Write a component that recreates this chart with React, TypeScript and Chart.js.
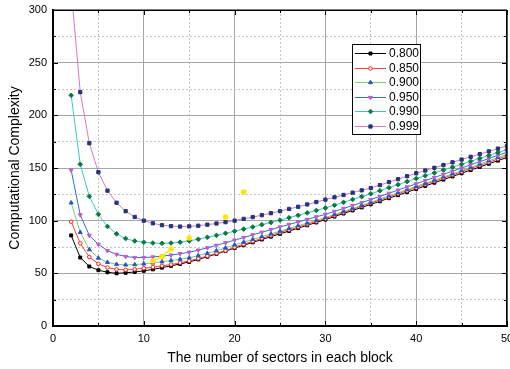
import React, { useEffect, useRef } from 'react';
import { Chart, registerables } from 'chart.js';
import { drawPoint } from 'chart.js/helpers';

Chart.register(...registerables);

// ---------- data ----------
const sectors = [2, 3, 4, 5, 6, 7, 8, 9, 10, 11, 12, 13, 14, 15, 16, 17, 18, 19, 20, 21, 22, 23, 24, 25, 26, 27, 28, 29, 30, 31, 32, 33, 34, 35, 36, 37, 38, 39, 40, 41, 42, 43, 44, 45, 46, 47, 48, 49, 50];

const c800 = [86, 65, 56.5, 53, 51, 50, 50.5, 51.3, 52.4, 53.8, 55.4, 57.1, 58.9, 60.8, 63.2, 65.8, 68.4, 71.1, 74, 76.7, 79.4, 82.1, 84.8, 87.5, 90.2, 92.9, 95.6, 98.3, 101, 103.9, 106.8, 109.7, 112.6, 115.5, 118.4, 121.3, 124.2, 127.1, 130, 133, 136, 139, 142, 145, 148, 151, 154, 157, 160];
const c850 = [99, 78.5, 65.5, 59, 55.5, 53.7, 53.3, 53.8, 54.8, 55.9, 57.1, 58.4, 60, 61.8, 64, 66.4, 69, 71.6, 74.8, 77.6, 80.4, 83.2, 86, 88.8, 91.4, 94, 96.6, 99.3, 102, 105, 107.9, 110.9, 113.8, 116.8, 119.7, 122.6, 125.6, 128.5, 131.5, 134.5, 137.5, 140.5, 143.5, 146.5, 149.5, 152.5, 155.5, 158.5, 161.5];
const c900 = [117, 89, 72.5, 64.5, 60.5, 58.6, 58, 58.3, 59, 59.9, 61, 62.2, 63.4, 64.8, 66.8, 69, 71.5, 74.2, 77, 79.6, 82.2, 84.8, 87.4, 90, 92.6, 95.2, 97.8, 100.4, 103, 105.9, 108.8, 111.7, 114.6, 117.5, 120.5, 123.5, 126.5, 129.5, 132.5, 135.5, 138.5, 141.5, 144.5, 147.5, 150.6, 153.7, 156.8, 159.9, 163];
const c950 = [148, 105.5, 86, 77.5, 71.5, 68, 66, 65, 65, 65.5, 66.3, 67.3, 68.6, 70, 72, 74.2, 76.6, 79, 81.5, 84, 86.5, 89, 91.5, 94, 96.4, 98.8, 101.2, 103.6, 106, 108.8, 111.6, 114.4, 117.2, 120, 123, 126, 129, 132, 135, 138, 141, 144, 147, 150, 153, 156, 159, 162, 165];
const c990 = [219, 153.5, 123, 106, 94.5, 87.5, 83, 80.7, 79.5, 78.8, 78.5, 78.8, 79.6, 80.8, 82.4, 84.2, 86, 88, 90, 92, 94, 96.2, 98.3, 100.5, 102.8, 105.1, 107.4, 109.7, 112, 114.7, 117.4, 120.1, 122.8, 125.5, 128.4, 131.3, 134.2, 137.1, 140, 142.7, 145.4, 148.1, 150.8, 153.5, 156.3, 159.1, 161.9, 164.7, 167.5];
const c999 = [320, 222, 173.5, 146, 128.5, 117, 109, 103.5, 100, 97.5, 95.7, 94.8, 94.4, 94.6, 95.2, 96.2, 97.3, 98.6, 100, 101.7, 103.4, 105.2, 107.1, 109, 111.1, 113.2, 115.4, 117.7, 120, 122.2, 124.4, 126.6, 128.8, 131, 133.8, 136.6, 139.4, 142.2, 145, 147.6, 150.2, 152.8, 155.4, 158, 160.6, 163.2, 165.8, 168.4, 171];

const seriesLabels = ['0.800', '0.850', '0.900', '0.950', '0.990', '0.999'];

// stray yellow marks in the figure
const yellowX = [11, 12, 13, 14, 15, 17, 19, 20, 21];
const yellowY = [61.7, 66, 73, null, 83.6, null, 103.5, null, 127.2];

const xTitle = 'The number of sectors in each block';
const yTitle = 'Computational Complexity';

// ---------- styles ----------
const styles = [
  { line: '#000000', fill: '#000000', stroke: '#000000', shape: 'rect', r: 2.1, rot: 0 },
  { line: '#ff3b3b', fill: '#ffffff', stroke: '#ff2020', shape: 'circle', r: 1.8, rot: 0 },
  { line: '#7ccd6e', fill: '#2255c8', stroke: '#2255c8', shape: 'triangle', r: 2.3, rot: 0 },
  { line: '#2f6fd6', fill: '#c05cc8', stroke: '#c05cc8', shape: 'triangle', r: 2.3, rot: 180 },
  { line: '#3ec3d3', fill: '#0a7a3a', stroke: '#0a7a3a', shape: 'rectRot', r: 2.3, rot: 0 },
  { line: '#d877c8', fill: '#23357a', stroke: '#23357a', shape: 'rect', r: 2.3, rot: 0 },
];
const seriesValues = [c800, c850, c900, c950, c990, c999];

const FONT = "'Liberation Sans', Arial, sans-serif";

const framePlugin = {
  id: 'frameAndLegend',
  afterDraw(chart: any) {
    const ctx = chart.ctx as CanvasRenderingContext2D;
    const { left, right, top, bottom } = chart.chartArea;
    const xs = chart.scales.x;
    const ys = chart.scales.y;
    ctx.save();
    // top + right frame lines
    ctx.strokeStyle = '#000';
    ctx.lineWidth = 1.5;
    ctx.beginPath();
    ctx.moveTo(left, top + 0.25);
    ctx.lineTo(right, top + 0.25);
    ctx.moveTo(right - 0.25, top);
    ctx.lineTo(right - 0.25, bottom);
    ctx.stroke();
    // inside ticks
    ctx.lineWidth = 1;
    ctx.beginPath();
    xs.ticks.forEach((t: any) => {
      const px = Math.round(xs.getPixelForValue(t.value)) + 0.5;
      const len = t.value % 10 === 0 ? 5 : 3;
      ctx.moveTo(px, bottom);
      ctx.lineTo(px, bottom - len);
      ctx.moveTo(px, top);
      ctx.lineTo(px, top + len);
    });
    ys.ticks.forEach((t: any) => {
      const py = Math.round(ys.getPixelForValue(t.value)) + 0.5;
      const len = t.value % 50 === 0 ? 5 : 3;
      ctx.moveTo(left, py);
      ctx.lineTo(left + len, py);
      ctx.moveTo(right, py);
      ctx.lineTo(right - len, py);
    });
    ctx.stroke();

    // legend
    const bx = 352.5, by = 44.5, bw = 68, bh = 90;
    ctx.fillStyle = '#fff';
    ctx.fillRect(bx, by, bw, bh);
    ctx.strokeStyle = '#000';
    ctx.lineWidth = 1;
    ctx.strokeRect(bx, by, bw, bh);
    ctx.font = `12px ${FONT}`;
    ctx.textBaseline = 'middle';
    ctx.textAlign = 'left';
    seriesLabels.forEach((lab, i) => {
      const st = styles[i];
      const cy = Math.round(53 + i * 14.5) + 0.5;
      ctx.strokeStyle = st.line;
      ctx.lineWidth = 1;
      ctx.beginPath();
      ctx.moveTo(355, cy);
      ctx.lineTo(386, cy);
      ctx.stroke();
      ctx.fillStyle = st.fill;
      ctx.strokeStyle = st.stroke;
      drawPoint(ctx, { pointStyle: st.shape as any, radius: st.r, rotation: st.rot, borderWidth: 1 }, 370.5, cy);
      ctx.fillStyle = '#000';
      ctx.fillText(lab, 389, cy + 0.5);
    });
    ctx.restore();
  },
};

export default function App() {
  const ref = useRef<HTMLCanvasElement | null>(null);
  useEffect(() => {
    document.body.style.margin = '0';
    const canvas = ref.current!;
    const datasets: any[] = seriesValues.map((vals, i) => ({
      label: seriesLabels[i],
      data: sectors.map((x, j) => ({ x, y: vals[j] })),
      borderColor: styles[i].line,
      backgroundColor: styles[i].fill,
      borderWidth: 1,
      pointStyle: styles[i].shape,
      pointRotation: styles[i].rot,
      pointRadius: styles[i].r,
      pointBackgroundColor: styles[i].fill,
      pointBorderColor: styles[i].stroke,
      pointBorderWidth: 1,
      tension: 0,
      order: 10 - i,
    }));
    datasets.push({
      label: 'stray',
      data: yellowX.map((x, j) => ({ x, y: yellowY[j] })),
      borderColor: '#ffe600',
      backgroundColor: '#ffe600',
      borderWidth: 1.5,
      pointRadius: 2,
      pointStyle: 'circle',
      pointBackgroundColor: '#ffe600',
      pointBorderColor: '#ffe600',
      spanGaps: false,
      tension: 0,
      order: 0,
    });

    const chart = new Chart(canvas, {
      type: 'line',
      data: { datasets },
      options: {
        animation: false,
        responsive: false,
        devicePixelRatio: 1,
        layout: { padding: { top: 10, right: 3, left: 0, bottom: 0 }, autoPadding: false } as any,
        plugins: { legend: { display: false }, tooltip: { enabled: false } },
        scales: {
          x: {
            type: 'linear',
            min: 0,
            max: 50,
            afterFit: (s: any) => { s.height = 43; s.paddingLeft = 0; s.paddingRight = 0; },
            ticks: {
              stepSize: 5,
              autoSkip: false,
              maxRotation: 0,
              padding: 6,
              color: '#000',
              font: { family: FONT, size: 11 },
              callback: (v: any) => (Number(v) % 10 === 0 ? String(v) : ''),
            },
            grid: {
              drawTicks: false,
              lineWidth: 1,
              color: (c: any) => (c.tick && c.tick.value % 10 === 0 ? '#a6a6a6' : '#c4c4c4'),
            },
            border: {
              display: true,
              color: '#000',
              width: 2,
              dash: (c: any) => (c.tick && c.tick.value % 10 !== 0 ? [2, 2] : []),
            },
            title: {
              display: true,
              text: xTitle,
              color: '#000',
              font: { family: FONT, size: 14 },
              padding: { top: 0, bottom: 2 },
            },
          },
          y: {
            type: 'linear',
            min: 0,
            max: 300,
            afterFit: (s: any) => { s.width = 53; s.paddingTop = 0; s.paddingBottom = 0; },
            ticks: {
              stepSize: 25,
              autoSkip: false,
              padding: 6,
              color: '#000',
              font: { family: FONT, size: 11 },
              callback: (v: any) => (Number(v) % 50 === 0 ? String(v) : ''),
            },
            grid: {
              drawTicks: false,
              lineWidth: 1,
              color: (c: any) => (c.tick && c.tick.value % 50 === 0 ? '#a6a6a6' : '#c4c4c4'),
            },
            border: {
              display: true,
              color: '#000',
              width: 2,
              dash: (c: any) => (c.tick && c.tick.value % 50 !== 0 ? [2, 2] : []),
            },
            title: {
              display: true,
              text: yTitle,
              color: '#000',
              font: { family: FONT, size: 14 },
              padding: { top: 7, bottom: 0 },
            },
          },
        },
      } as any,
      plugins: [framePlugin],
    });
    return () => chart.destroy();
  }, []);
  return (
    <div style={{ position: 'absolute', left: 0, top: 0, width: 510, height: 369, background: '#fff' }}>
      <canvas ref={ref} width={510} height={369} style={{ width: 510, height: 369, display: 'block' }} />
    </div>
  );
}
